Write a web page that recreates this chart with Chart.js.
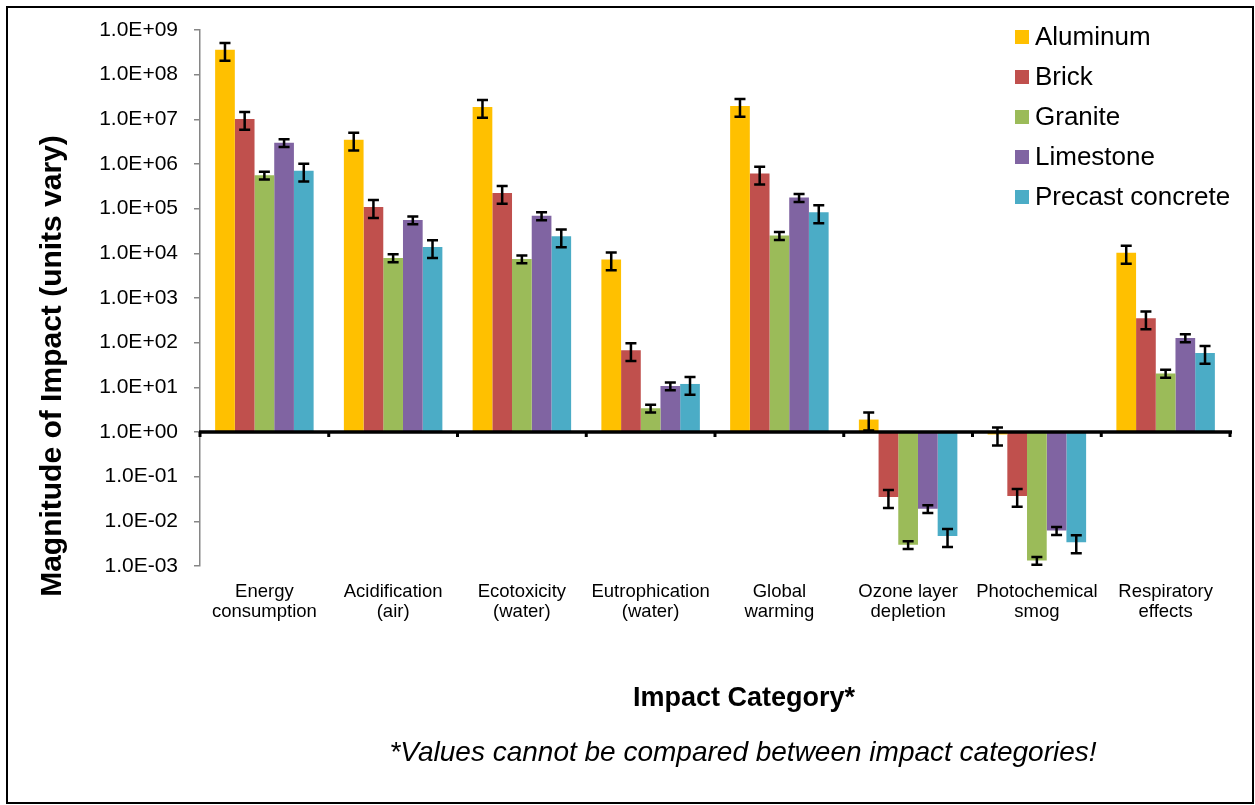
<!DOCTYPE html>
<html>
<head>
<meta charset="utf-8">
<title>Magnitude of Impact by Material</title>
<script src="https://cdn.jsdelivr.net/npm/chart.js@4/dist/chart.umd.min.js"></script>
<style>
  html, body { margin: 0; padding: 0; background: #fff; }
  #wrap { position: relative; width: 1255px; height: 805px; }
  #frame { position: absolute; left: 6px; top: 6px; width: 1248px; height: 798px;
           box-sizing: border-box; border: 2px solid #000; pointer-events: none; }
  canvas { position: absolute; left: 0; top: 0; }
</style>
</head>
<body>
<div id="wrap">
  <canvas id="chart" width="1255" height="805"></canvas>
  <div id="frame"></div>
</div>
<script>
// Impact categories (multi-line axis labels)
const categories = [
  ['Energy', 'consumption'],
  ['Acidification', '(air)'],
  ['Ecotoxicity', '(water)'],
  ['Eutrophication', '(water)'],
  ['Global', 'warming'],
  ['Ozone layer', 'depletion'],
  ['Photochemical', 'smog'],
  ['Respiratory', 'effects']
];

// Material names and colours
const materials = ['Aluminum', 'Brick', 'Granite', 'Limestone', 'Precast concrete'];
const colors = ['#FFC000', '#C0504D', '#9BBB59', '#8064A2', '#4BACC6'];

// Magnitude of impact per category (units vary by category)
const aluminum  = [3.6e8, 3.5e6, 1.9e7, 7.3e3, 2.0e7, 1.9,    0.88,    1.03e4];
const brick     = [1.02e7, 1.09e5, 2.25e5, 68,  6.1e5, 0.035,  0.037,   350];
const granite   = [5.6e5, 7.9e3, 7.5e3, 3.4,   2.5e4, 0.0030, 0.00133, 20.5];
const limestone = [3.0e6, 5.6e4, 6.9e4, 10.7,  1.77e5, 0.0191, 0.0062, 128];
const precast   = [7.1e5, 1.38e4, 2.4e4, 11.9, 8.3e4, 0.0047, 0.0034,  59];

// Error bar size for each material, as percent of the value
const errorPercent = [43, 43, 20, 20, 43];

// Y-axis tick values (powers of ten)
const yTicks = [1e-3, 1e-2, 1e-1, 1e0, 1e1, 1e2, 1e3, 1e4, 1e5, 1e6, 1e7, 1e8, 1e9];

const seriesValues = [aluminum, brick, granite, limestone, precast];
const FONT = "'Liberation Sans', Arial, Helvetica, sans-serif";

const yTitle = 'Magnitude of Impact (units vary)';
const xTitle = 'Impact Category*';
const footnote = '*Values cannot be compared between impact categories!';

function sciLabel(v) {
  const exp = Math.round(Math.log10(v));
  const sign = exp < 0 ? '-' : '+';
  const digits = String(Math.abs(exp)).padStart(2, '0');
  return '1.0E' + sign + digits;
}

// Horizontal axis crossing at 1, error bars, legend and titles
const overlay = {
  id: 'overlay',
  afterDatasetsDraw(chart) {
    const { ctx, scales: { x, y } } = chart;
    const y1 = y.getPixelForValue(1);

    // category axis crossing at 1.0E+00
    ctx.save();
    ctx.strokeStyle = '#000';
    ctx.lineWidth = 3.5;
    ctx.beginPath();
    ctx.moveTo(x.left - 1, y1);
    ctx.lineTo(x.right + 2, y1);
    ctx.stroke();
    // tick marks at category boundaries
    const n = categories.length;
    const step = (x.right - x.left) / n;
    ctx.lineWidth = 3;
    for (let i = 0; i <= n; i++) {
      const px = i === 0 ? x.left : (x.getPixelForValue(i - 1) + step / 2);
      ctx.beginPath();
      ctx.moveTo(px, y1);
      ctx.lineTo(px, y1 + 5);
      ctx.stroke();
    }

    // error bars
    ctx.lineWidth = 2.5;
    chart.data.datasets.forEach((ds, di) => {
      const meta = chart.getDatasetMeta(di);
      meta.data.forEach((bar, i) => {
        const v = ds.data[i];
        const e = v * errorPercent[di] / 100;
        const yHi = y.getPixelForValue(v + e);
        const yLo = y.getPixelForValue(v - e);
        const cx = bar.x;
        const cap = 5.5;
        ctx.beginPath();
        ctx.moveTo(cx, yHi); ctx.lineTo(cx, yLo);
        ctx.moveTo(cx - cap, yHi); ctx.lineTo(cx + cap, yHi);
        ctx.moveTo(cx - cap, yLo); ctx.lineTo(cx + cap, yLo);
        ctx.stroke();
      });
    });
    ctx.restore();
  },
  afterDraw(chart) {
    const { ctx, chartArea } = chart;
    ctx.save();
    ctx.fillStyle = '#000';
    // legend
    ctx.font = '26px ' + FONT;
    ctx.textBaseline = 'middle';
    ctx.textAlign = 'left';
    const lx = chartArea.right - 215;
    chart.data.datasets.forEach((ds, i) => {
      const cy = chartArea.top + 7 + i * 40;
      ctx.fillStyle = ds.backgroundColor;
      ctx.fillRect(lx, cy - 7, 14, 14);
      ctx.fillStyle = '#000';
      ctx.fillText(ds.label, lx + 20, cy + 1);
    });
    // x-axis title and footnote
    ctx.textAlign = 'center';
    ctx.font = 'bold 27px ' + FONT;
    ctx.fillText(xTitle, 744, 699);
    ctx.font = 'italic 28px ' + FONT;
    ctx.fillText(footnote, 743, 753);
    // y-axis title
    ctx.translate(53, 366);
    ctx.rotate(-Math.PI / 2);
    ctx.font = 'bold 30px ' + FONT;
    ctx.fillText(yTitle, 0, 0);
    ctx.restore();
  }
};

new Chart(document.getElementById('chart'), {
  type: 'bar',
  data: {
    labels: categories,
    datasets: materials.map((name, i) => ({
      label: name,
      data: seriesValues[i],
      backgroundColor: colors[i],
      borderWidth: 0,
      base: 1,
      categoryPercentage: 0.765,
      barPercentage: 1
    }))
  },
  options: {
    responsive: false,
    devicePixelRatio: 1,
    animation: false,
    layout: { padding: { left: 0, top: 30, right: 25, bottom: 0 } },
    plugins: {
      legend: { display: false },
      tooltip: { enabled: false }
    },
    scales: {
      x: {
        grid: { display: false, drawTicks: false },
        border: { display: false },
        ticks: {
          color: '#000',
          padding: 15.5,
          maxRotation: 0,
          autoSkip: false,
          font: { family: FONT, size: 18.5, lineHeight: 1.08 }
        },
        afterFit(scale) { scale.height = 239; }
      },
      y: {
        type: 'logarithmic',
        min: 1e-3,
        max: 1e9,
        afterBuildTicks(scale) { scale.ticks = yTicks.map(v => ({ value: v })); },
        grid: { display: true, drawOnChartArea: false, drawTicks: true, tickLength: 6,
                color: '#868686', lineWidth: 1.5 },
        border: { display: true, color: '#868686', width: 1.5 },
        ticks: {
          color: '#000',
          padding: 16,
          font: { family: FONT, size: 21 },
          callback: (v) => sciLabel(v)
        },
        afterFit(scale) { scale.width = 200; }
      }
    }
  },
  plugins: [overlay]
});
</script>
</body>
</html>
